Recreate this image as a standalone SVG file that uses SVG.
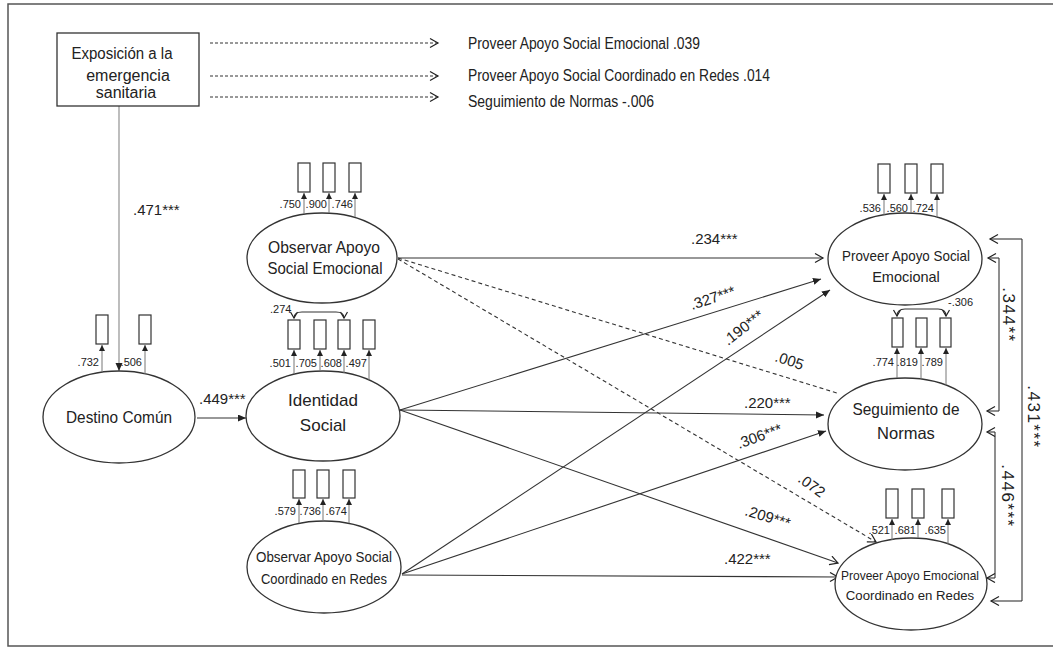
<svg xmlns="http://www.w3.org/2000/svg" width="1053" height="648" viewBox="0 0 1053 648">
<defs>
<style>
.t{font-family:"Liberation Sans",Arial,sans-serif;fill:#222}
.node ellipse,.node rect.box{fill:#fff;stroke:#333;stroke-width:1.3}
.ind rect{fill:#fff;stroke:#333;stroke-width:1.2}
.ind line{stroke:#777;stroke-width:1;marker-end:url(#fs)}
.lab{font-size:11px}
.pl{font-size:15px}
.solid{stroke:#333;stroke-width:1.1;fill:none}
.dash{stroke:#333;stroke-width:1.1;fill:none;stroke-dasharray:4 3}
.tdash{stroke:#333;stroke-width:1;fill:none;stroke-dasharray:3 2}
.cov{stroke:#333;stroke-width:1.2;fill:none;marker-start:url(#ov);marker-end:url(#ov)}
.corr{stroke:#333;stroke-width:1.1;fill:none}
.rot{font-size:17px;letter-spacing:1.5px}
</style>
<marker id="fa" markerUnits="userSpaceOnUse" markerWidth="9" markerHeight="8" refX="8" refY="3.5" orient="auto"><path d="M0,0 L8,3.5 L0,7 z" fill="#222"/></marker>
<marker id="fs" markerUnits="userSpaceOnUse" markerWidth="7" markerHeight="7" refX="6" refY="3" orient="auto"><path d="M0,0 L6,3 L0,6 z" fill="#222"/></marker>
<marker id="oa" markerUnits="userSpaceOnUse" markerWidth="11" markerHeight="11" refX="9" refY="5" orient="auto"><path d="M1,0.5 L9,5 L1,9.5" fill="none" stroke="#222" stroke-width="1.2"/></marker>
<marker id="ov" markerUnits="userSpaceOnUse" markerWidth="9" markerHeight="9" refX="7" refY="4" orient="auto-start-reverse"><path d="M1,0.5 L7,4 L1,7.5" fill="none" stroke="#222" stroke-width="1.2"/></marker>
</defs>
<rect x="0" y="0" width="1053" height="648" fill="#fff"/>
<path d="M1060,4 L8,4 L8,646 L1060,646" fill="none" stroke="#555" stroke-width="1.5"/>

<g id="connectors">
<line class="solid" x1="119" y1="106" x2="119" y2="371" style="stroke:#888" marker-end="url(#fa)"/>
<text class="t pl" x="133" y="215">.471***</text>
<line class="tdash" x1="210" y1="43" x2="438" y2="43" marker-end="url(#oa)"/>
<line class="tdash" x1="210" y1="76" x2="438" y2="76" marker-end="url(#oa)"/>
<line class="tdash" x1="210" y1="97" x2="438" y2="97" marker-end="url(#oa)"/>
<line class="solid" x1="197" y1="418" x2="246" y2="418" marker-end="url(#fa)"/>
<text class="t pl" x="199" y="404">.449***</text>

<line class="solid" x1="398" y1="258" x2="823" y2="258" marker-end="url(#oa)"/>
<text class="t pl" x="691" y="244">.234***</text>
<line class="dash" x1="398" y1="258" x2="837" y2="393"/>
<text class="t pl" x="774" y="361" transform="rotate(18 774 361)">.005</text>
<line class="dash" x1="398" y1="259" x2="876" y2="542" marker-end="url(#oa)"/>
<text class="t pl" x="797" y="481" transform="rotate(36 797 481)">.072</text>

<line class="solid" x1="400" y1="410" x2="821" y2="279" marker-end="url(#fa)"/>
<text class="t pl" x="692" y="310" transform="rotate(-18 692 310)">.327***</text>
<line class="solid" x1="400" y1="410" x2="824" y2="415" marker-end="url(#fa)"/>
<text class="t pl" x="744" y="408">.220***</text>
<line class="solid" x1="400" y1="410" x2="838" y2="563" marker-end="url(#oa)"/>
<text class="t pl" x="744" y="515" transform="rotate(17 744 515)">.209***</text>

<line class="solid" x1="402" y1="574" x2="830" y2="290" marker-end="url(#fa)"/>
<text class="t pl" x="728" y="346" transform="rotate(-38 728 346)">.190***</text>
<line class="solid" x1="402" y1="574" x2="826" y2="431" marker-end="url(#fa)"/>
<text class="t pl" x="739" y="449" transform="rotate(-20 739 449)">.306***</text>
<line class="solid" x1="402" y1="575" x2="838" y2="577" marker-end="url(#oa)"/>
<text class="t pl" x="724" y="564">.422***</text>

<path class="corr" d="M999,258 L999,411"/>
<path class="corr" d="M999,258 L988,258" marker-end="url(#oa)"/>
<path class="corr" d="M999,411 L987,411" marker-end="url(#oa)"/>
<text class="t rot" x="1008" y="315" text-anchor="middle" transform="rotate(90 1008 315)" dy="5">.344**</text>
<path class="corr" d="M995,432 L995,578"/>
<path class="corr" d="M995,432 L987,432" marker-end="url(#oa)"/>
<path class="corr" d="M995,578 L987,578" marker-end="url(#oa)"/>
<text class="t rot" x="1007" y="496" text-anchor="middle" transform="rotate(90 1007 496)" dy="5">.446***</text>
<path class="corr" d="M1022,239 L1022,601"/>
<path class="corr" d="M1022,239 L990,239" marker-end="url(#oa)"/>
<path class="corr" d="M1022,601 L991,601" marker-end="url(#oa)"/>
<text class="t rot" x="1033" y="417" text-anchor="middle" transform="rotate(90 1033 417)" dy="5">.431***</text>
</g>

<g id="exposicion" class="node">
<rect class="box" x="57" y="33" width="142" height="73"/>
<text class="t" font-size="16" text-anchor="middle"><tspan x="122" y="59" textLength="101" lengthAdjust="spacingAndGlyphs">Exposición a la</tspan><tspan x="128" y="81">emergencia</tspan><tspan x="126" y="98">sanitaria</tspan></text>
</g>

<g id="efectos-exposicion">
<text class="t" font-size="16" x="468" y="49" textLength="232" lengthAdjust="spacingAndGlyphs">Proveer Apoyo Social Emocional .039</text>
<text class="t" font-size="16" x="468" y="81" textLength="302" lengthAdjust="spacingAndGlyphs">Proveer Apoyo Social Coordinado en Redes .014</text>
<text class="t" font-size="16" x="468" y="107" textLength="186" lengthAdjust="spacingAndGlyphs">Seguimiento de Normas -.006</text>
</g>

<g id="destino-comun" class="node">
<ellipse cx="119" cy="417" rx="76" ry="46"/>
<text class="t" font-size="16.5" x="119" y="423" text-anchor="middle" textLength="106" lengthAdjust="spacingAndGlyphs">Destino Común</text>
<g class="ind">
<rect x="96" y="315" width="12" height="29"/><rect x="139" y="315" width="12" height="29"/>
<line x1="102" y1="372" x2="102" y2="345"/><line x1="145" y1="374" x2="145" y2="345"/>
</g>
<g class="t lab" text-anchor="end"><text x="99" y="366">.732</text><text x="142" y="366">.506</text></g>
</g>

<g id="identidad-social" class="node">
<ellipse cx="323" cy="416" rx="77" ry="45"/>
<text class="t" font-size="17" text-anchor="middle"><tspan x="323" y="406">Identidad</tspan><tspan x="323" y="431">Social</tspan></text>
<g class="ind">
<rect x="288" y="320" width="12" height="29"/><rect x="314" y="320" width="12" height="29"/><rect x="338" y="320" width="12" height="29"/><rect x="363" y="320" width="12" height="29"/>
<line x1="294" y1="374" x2="294" y2="350"/><line x1="320" y1="371" x2="320" y2="350"/><line x1="344" y1="373" x2="344" y2="350"/><line x1="369" y1="380" x2="369" y2="350"/>
</g>
<path class="cov" d="M294,318 C294,313 297,312 302,312 L336,312 C341,312 344,313 344,318"/>
<text class="t lab" x="270" y="313">.274</text>
<g class="t lab" text-anchor="end"><text x="291" y="367">.501</text><text x="317" y="367">.705</text><text x="342" y="367">.608</text><text x="367" y="367">.497</text></g>
</g>

<g id="observar-emocional" class="node">
<ellipse cx="322" cy="258" rx="75" ry="45"/>
<text class="t" font-size="16" text-anchor="middle"><tspan x="324" y="253" textLength="112" lengthAdjust="spacingAndGlyphs">Observar Apoyo</tspan><tspan x="325" y="274" textLength="115" lengthAdjust="spacingAndGlyphs">Social Emocional</tspan></text>
<g class="ind">
<rect x="298" y="163" width="12" height="29"/><rect x="323" y="163" width="12" height="29"/><rect x="349" y="163" width="12" height="29"/>
<line x1="304" y1="214" x2="304" y2="193"/><line x1="329" y1="213" x2="329" y2="193"/><line x1="355" y1="217" x2="355" y2="193"/>
</g>
<g class="t lab" text-anchor="end"><text x="301" y="208">.750</text><text x="327" y="208">.900</text><text x="353" y="208">.746</text></g>
</g>

<g id="observar-coordinado" class="node">
<ellipse cx="324" cy="567" rx="77" ry="46"/>
<text class="t" font-size="14.5" text-anchor="middle"><tspan x="324" y="562" textLength="136" lengthAdjust="spacingAndGlyphs">Observar Apoyo Social</tspan><tspan x="324" y="584" textLength="126" lengthAdjust="spacingAndGlyphs">Coordinado en Redes</tspan></text>
<g class="ind">
<rect x="293" y="470" width="12" height="28"/><rect x="317" y="470" width="12" height="28"/><rect x="343" y="470" width="12" height="28"/>
<line x1="299" y1="523" x2="299" y2="499"/><line x1="323" y1="521" x2="323" y2="499"/><line x1="349" y1="523" x2="349" y2="499"/>
</g>
<g class="t lab" text-anchor="end"><text x="296" y="515">.579</text><text x="321" y="515">.736</text><text x="347" y="515">.674</text></g>
</g>

<g id="proveer-emocional" class="node">
<ellipse cx="905" cy="259" rx="77" ry="46"/>
<text class="t" font-size="14.5" text-anchor="middle"><tspan x="906" y="261" textLength="128" lengthAdjust="spacingAndGlyphs">Proveer Apoyo Social</tspan><tspan x="906" y="282">Emocional</tspan></text>
<g class="ind">
<rect x="878" y="164" width="12" height="29"/><rect x="905" y="164" width="12" height="29"/><rect x="931" y="164" width="12" height="29"/>
<line x1="884" y1="215" x2="884" y2="194"/><line x1="911" y1="213" x2="911" y2="194"/><line x1="937" y1="217" x2="937" y2="194"/>
</g>
<g class="t lab" text-anchor="end"><text x="881" y="212">.536</text><text x="908" y="212">.560</text><text x="934" y="212">.724</text></g>
</g>

<g id="seguimiento-normas" class="node">
<ellipse cx="905" cy="424" rx="77" ry="46"/>
<text class="t" font-size="16.5" text-anchor="middle"><tspan x="906" y="415" textLength="107" lengthAdjust="spacingAndGlyphs">Seguimiento de</tspan><tspan x="906" y="439">Normas</tspan></text>
<g class="ind">
<rect x="892" y="318" width="11" height="29"/><rect x="916" y="318" width="11" height="29"/><rect x="940" y="318" width="11" height="29"/>
<line x1="897" y1="378" x2="897" y2="348"/><line x1="921" y1="379" x2="921" y2="348"/><line x1="946" y1="385" x2="946" y2="348"/>
</g>
<path class="cov" d="M897,316 C897,311 900,309 905,309 L938,309 C943,309 946,311 946,316"/>
<text class="t lab" x="948" y="306">-.306</text>
<g class="t lab" text-anchor="end"><text x="894" y="366">.774</text><text x="918" y="366">.819</text><text x="943" y="366">.789</text></g>
</g>

<g id="proveer-coordinado" class="node">
<ellipse cx="911" cy="584" rx="76" ry="46"/>
<text class="t" font-size="13.2" text-anchor="middle"><tspan x="910" y="580" textLength="138" lengthAdjust="spacingAndGlyphs">Proveer Apoyo Emocional</tspan><tspan x="910" y="600">Coordinado en Redes</tspan></text>
<g class="ind">
<rect x="886" y="489" width="12" height="29"/><rect x="912" y="489" width="12" height="29"/><rect x="942" y="489" width="12" height="29"/>
<line x1="892" y1="540" x2="892" y2="519"/><line x1="918" y1="538" x2="918" y2="519"/><line x1="948" y1="544" x2="948" y2="519"/>
</g>
<g class="t lab" text-anchor="end"><text x="890" y="534">.521</text><text x="916" y="534">.681</text><text x="946" y="534">.635</text></g>
</g>
</svg>
